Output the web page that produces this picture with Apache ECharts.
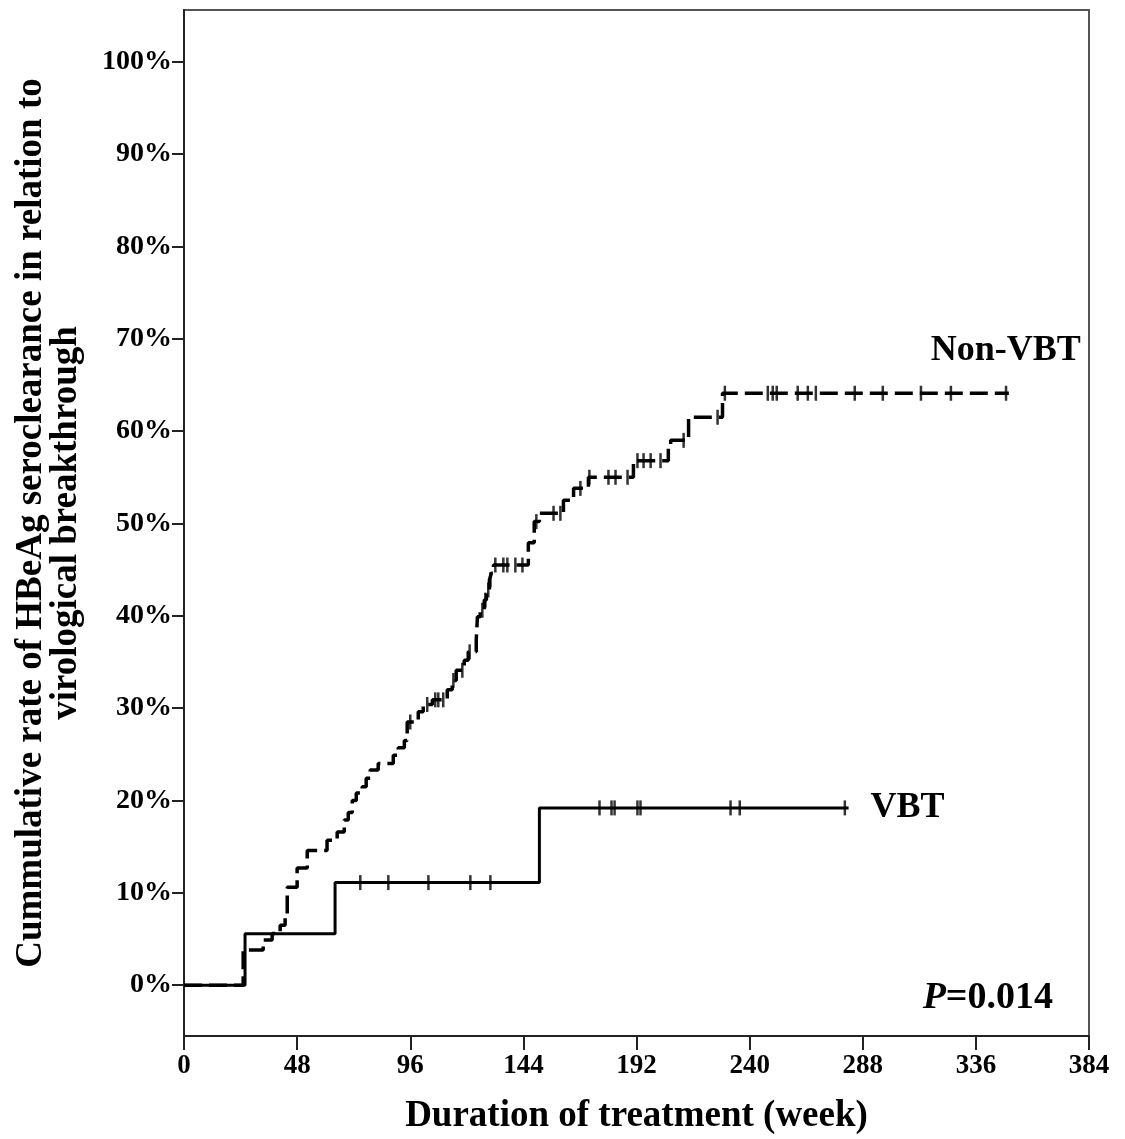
<!DOCTYPE html>
<html>
<head>
<meta charset="utf-8">
<script src="https://cdn.jsdelivr.net/npm/echarts@6/dist/echarts.min.js"></script>
<style>
  html, body { margin: 0; padding: 0; background: #fff; }
  #main { width: 1125px; height: 1139px; }
</style>
</head>
<body>
<div id="main"></div>
<script>
// week of each event and cumulative rate (%) after it
var nonVbtWeeks = [0, 25.1, 33.6, 37.4, 40.8, 42.9, 43.8, 48.0, 52.3, 60.7, 65.0, 68.0, 69.7, 71.4, 73.1, 75.6,
    77.3, 79.0, 82.4, 88.8, 90.9, 93.5, 94.7, 99.4, 101.5, 105.4, 111.7, 113.8, 115.5, 118.9, 120.6, 124.0,
    124.5, 125.7, 127.4, 128.3, 129.6, 130.4, 131.3, 146.1, 148.6, 150.8, 161.0, 165.3, 171.6, 190.7, 205.5,
    206.5, 214.1, 228.5, 350];
var nonVbtRates = [0, 3.8, 4.9, 5.6, 6.5, 7.6, 10.6, 12.7, 14.6, 15.7, 16.6, 17.9, 18.7, 20.0, 20.8, 21.5,
    22.4, 23.3, 24.0, 24.9, 25.7, 26.5, 28.5, 29.6, 30.4, 30.9, 32.0, 33.0, 34.1, 35.2, 36.1, 37.4,
    39.9, 40.6, 41.7, 42.8, 43.9, 44.6, 45.5, 47.9, 50.2, 51.1, 52.5, 53.8, 55.0, 56.8, 58.2,
    59.0, 61.5, 64.1, 64.1];
var nonVbtCensored = [96.0, 103.2, 106.6, 107.9, 110.0, 114.3, 118.1, 121.2, 126.6, 127.9, 129.1, 130.0,
    132.1, 135.5, 137.2, 140.6, 143.6, 149.5, 156.8, 159.7, 168.2, 172.0, 180.1, 183.1, 188.2, 192.4,
    195.0, 198.0, 202.2, 212.0, 226.4, 229.5, 247.7, 249.8, 251.5, 260.4, 264.7, 268.1, 284.6, 296.5,
    312.7, 325.4, 348.8];

var vbtWeeks = [0, 25.9, 64.1, 150.8, 282];
var vbtRates = [0, 5.56, 11.11, 19.2, 19.2];
var vbtCensored = [74.8, 86.7, 103.7, 121.5, 130.0, 176.3, 181.4, 182.7, 192.4, 193.7, 231.9, 235.8, 280.4];

var xTicks = [0, 48, 96, 144, 192, 240, 288, 336, 384];
var yTicks = [0, 10, 20, 30, 40, 50, 60, 70, 80, 90, 100];

var serif = "'Liberation Serif', 'Times New Roman', serif";

function pairs(xs, ys) {
    return xs.map(function (x, i) { return [x, ys[i]]; });
}
// level of the step curve at a given week
function levelAt(xs, ys, w) {
    var v = ys[0];
    for (var i = 0; i < xs.length; i++) {
        if (xs[i] <= w) v = ys[i];
    }
    return v;
}
function censorPoints(list, xs, ys) {
    return list.map(function (w) { return [w, levelAt(xs, ys, w)]; });
}

var chart = echarts.init(document.getElementById('main'));
var option = {
    animation: false,
    backgroundColor: '#fff',
    grid: {
        left: 184, right: 36, top: 10, bottom: 103,
        outerBoundsMode: 'none',
        show: true, borderColor: '#555', borderWidth: 2
    },
    xAxis: {
        type: 'value',
        min: 0, max: 384, interval: 48,
        name: 'Duration of treatment (week)',
        nameLocation: 'middle',
        nameGap: 62,
        nameTextStyle: { fontFamily: serif, fontWeight: 'bold', fontSize: 37, color: '#000' },
        axisLine: { onZero: false, lineStyle: { color: '#222', width: 2 } },
        axisTick: { length: 14, lineStyle: { color: '#222', width: 2 }, customValues: xTicks },
        axisLabel: { customValues: xTicks, fontFamily: serif, fontWeight: 'bold', fontSize: 27, color: '#000', margin: 17 },
        splitLine: { show: false }
    },
    yAxis: {
        type: 'value',
        min: -5.5, max: 105.6,
        name: 'Cummulative rate of HBeAg seroclearance in relation to\nvirological breakthrough',
        nameLocation: 'middle',
        nameGap: 100,
        nameTextStyle: { fontFamily: serif, fontWeight: 'bold', fontSize: 37, color: '#000', lineHeight: 35 },
        axisLine: { show: true, onZero: false, lineStyle: { color: '#222', width: 2 } },
        axisTick: { show: true, length: 12, lineStyle: { color: '#222', width: 2 }, customValues: yTicks },
        axisLabel: {
            customValues: yTicks, formatter: '{value}%',
            fontFamily: serif, fontWeight: 'bold', fontSize: 28, color: '#000', margin: 12
        },
        splitLine: { show: false }
    },
    series: [
        {
            name: 'Non-VBT',
            type: 'line',
            step: 'end',
            symbol: 'none',
            data: pairs(nonVbtWeeks, nonVbtRates),
            lineStyle: { color: '#000', width: 3.5, type: [18, 7] },
            z: 3
        },
        {
            name: 'Non-VBT censored',
            type: 'scatter',
            symbol: 'rect',
            symbolSize: [2.5, 15],
            itemStyle: { color: '#000' },
            data: censorPoints(nonVbtCensored, nonVbtWeeks, nonVbtRates),
            z: 4
        },
        {
            name: 'VBT',
            type: 'line',
            step: 'end',
            symbol: 'none',
            data: pairs(vbtWeeks, vbtRates),
            lineStyle: { color: '#000', width: 3 },
            z: 3
        },
        {
            name: 'VBT censored',
            type: 'scatter',
            symbol: 'rect',
            symbolSize: [2.5, 15],
            itemStyle: { color: '#000' },
            data: censorPoints(vbtCensored, vbtWeeks, vbtRates),
            z: 4
        }
    ]
};
chart.setOption(option);

// group labels placed next to the end of each curve
var nonEnd = chart.convertToPixel({ gridIndex: 0 }, [nonVbtWeeks[nonVbtWeeks.length - 1], nonVbtRates[nonVbtRates.length - 1]]);
var vbtEnd = chart.convertToPixel({ gridIndex: 0 }, [vbtWeeks[vbtWeeks.length - 1], vbtRates[vbtRates.length - 1]]);
chart.setOption({
    graphic: [
        {
            type: 'text',
            x: nonEnd[0] + 72, y: nonEnd[1] - 43,
            style: { text: 'Non-VBT', fill: '#000', font: 'bold 36px ' + serif, align: 'right', verticalAlign: 'middle' }
        },
        {
            type: 'text',
            x: vbtEnd[0] + 22, y: vbtEnd[1],
            style: { text: 'VBT', fill: '#000', font: 'bold 36px ' + serif, align: 'left', verticalAlign: 'middle' }
        },
        {
            type: 'text',
            x: 1053, y: 998,
            style: {
                text: '{i|P}{b|=0.014}',
                align: 'right', verticalAlign: 'middle',
                rich: {
                    i: { fontFamily: serif, fontStyle: 'italic', fontWeight: 'bold', fontSize: 38, fill: '#000' },
                    b: { fontFamily: serif, fontWeight: 'bold', fontSize: 38, fill: '#000' }
                }
            }
        }
    ]
});
</script>
</body>
</html>
